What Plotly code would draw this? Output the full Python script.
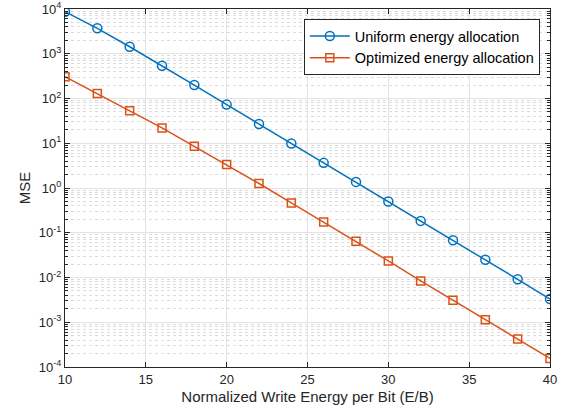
import plotly.graph_objects as go

x_vals = [10, 12, 14, 16, 18, 20, 22, 24, 26, 28, 30, 32, 34, 36, 38, 40]
uniform_mse = [8700, 3700, 1435, 540, 200, 73, 27, 9.9, 3.65, 1.37, 0.50, 0.184,
               0.068, 0.025, 0.0091, 0.0033]
optimized_mse = [306, 130, 53, 22, 8.6, 3.36, 1.26, 0.464, 0.174, 0.0645, 0.0234,
                 0.0084, 0.0031, 0.00114, 0.00042, 0.000155]
series_names = ["Uniform energy allocation", "Optimized energy allocation"]
y_tick_vals = [1e-4, 1e-3, 1e-2, 1e-1, 1, 10, 100, 1000, 10000]
y_tick_text = ["10<sup>-4</sup>", "10<sup>-3</sup>", "10<sup>-2</sup>", "10<sup>-1</sup>",
               "10<sup>0</sup>", "10<sup>1</sup>", "10<sup>2</sup>", "10<sup>3</sup>",
               "10<sup>4</sup>"]
x_tick_vals = [10, 15, 20, 25, 30, 35, 40]

FONT = "Liberation Sans, Arial, Helvetica, sans-serif"
AX = "#262626"

fig = go.Figure()
fig.add_trace(go.Scatter(
    x=x_vals, y=uniform_mse, name=series_names[0], mode="lines+markers",
    line=dict(color="#0072BD", width=1.5),
    marker=dict(symbol="circle-open", size=9, color="#0072BD", line=dict(width=1.5)),
))
fig.add_trace(go.Scatter(
    x=x_vals, y=optimized_mse, name=series_names[1], mode="lines+markers",
    line=dict(color="#D95319", width=1.5),
    marker=dict(symbol="square-open", size=8, color="#D95319", line=dict(width=1.5)),
))

fig.update_layout(
    width=569, height=416,
    margin=dict(l=65, r=19, t=9, b=49, autoexpand=False),
    paper_bgcolor="white", plot_bgcolor="white",
    font=dict(family=FONT, size=13, color=AX),
    legend=dict(
        x=0.979, y=0.972, xanchor="right", yanchor="top",
        bgcolor="white", bordercolor=AX, borderwidth=1,
        font=dict(family=FONT, size=14.5, color="#000000"),
        tracegroupgap=0, itemwidth=40,
    ),
    showlegend=True,
)

fig.update_xaxes(
    range=[10, 40], tickvals=x_tick_vals, ticks="inside", ticklen=5,
    tickcolor=AX, showline=True, linecolor=AX, linewidth=1, mirror="allticks",
    showgrid=True, gridcolor="#e3e3e3", gridwidth=1, zeroline=False, automargin=False,
    title=dict(text="Normalized Write Energy per Bit (E/B)", font=dict(size=15, color=AX),
               standoff=5),
    tickfont=dict(size=13, color=AX),
)
fig.update_yaxes(
    type="log", range=[-4, 4], tickvals=y_tick_vals, ticktext=y_tick_text,
    ticks="inside", ticklen=5, tickcolor=AX,
    showline=True, linecolor=AX, linewidth=1, mirror="allticks",
    showgrid=True, gridcolor="#e3e3e3", gridwidth=1, zeroline=False, automargin=False,
    minor=dict(dtick="D1", showgrid=True, gridcolor="#dcdcdc", griddash="dot",
               ticks="inside", ticklen=3, tickcolor=AX),
    title=dict(text="MSE", font=dict(size=15, color=AX), standoff=4),
    tickfont=dict(size=13, color=AX),
)

fig.write_html("out.html")
